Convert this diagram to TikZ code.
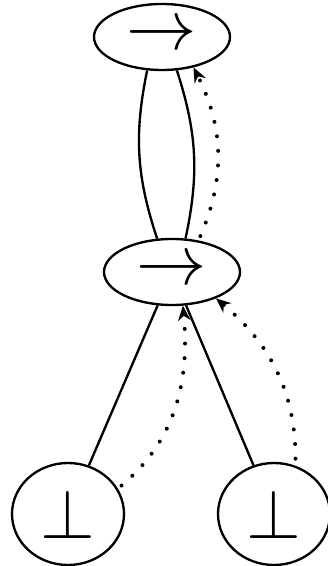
\documentclass[tikz,border=0pt]{standalone}
\usepackage{graphicx}
\usetikzlibrary{shapes.geometric,arrows.meta}
\newcommand{\bigsym}[1]{\scalebox{6}{$#1$}}
\begin{document}
\begin{tikzpicture}[line width=2pt,
  tnode/.style={draw,ellipse,inner sep=0pt,minimum width=4.08cm,minimum height=1.98cm},
  leaf/.style={tnode,minimum width=3.36cm,minimum height=3.06cm},
  ptr/.style={line width=3.4pt,dash pattern=on 0pt off 12.5pt,line cap=round,-{Stealth[length=0.45cm,width=0.38cm,line width=0pt]}}]
\useasboundingbox (0,0) rectangle (9.81,16.98);
\node[tnode] (top) at (4.86,15.87) {\bigsym{\rightarrow}}; \node[tnode] (mid) at (5.16,8.82) {\bigsym{\rightarrow}};
\node[leaf] (bl) at (2.04,1.56) {\bigsym{\bot}}; \node[leaf] (br) at (8.22,1.56) {\bigsym{\bot}};
\draw (top.-114) to[bend right=15] (mid.114); \draw (top.-66) to[bend left=15] (mid.68);
\draw (mid)--(bl); \draw (mid)--(br);
\draw[ptr,shorten <=4pt] (mid.50) to[bend right=25] (top.-44);
\draw[ptr,shorten <=4pt] (bl.27) to[out=40,in=-85] (mid.-72);
\draw[ptr,shorten <=6pt] (br.66) to[out=90,in=-40] (mid.-31);
\end{tikzpicture}
\end{document}
